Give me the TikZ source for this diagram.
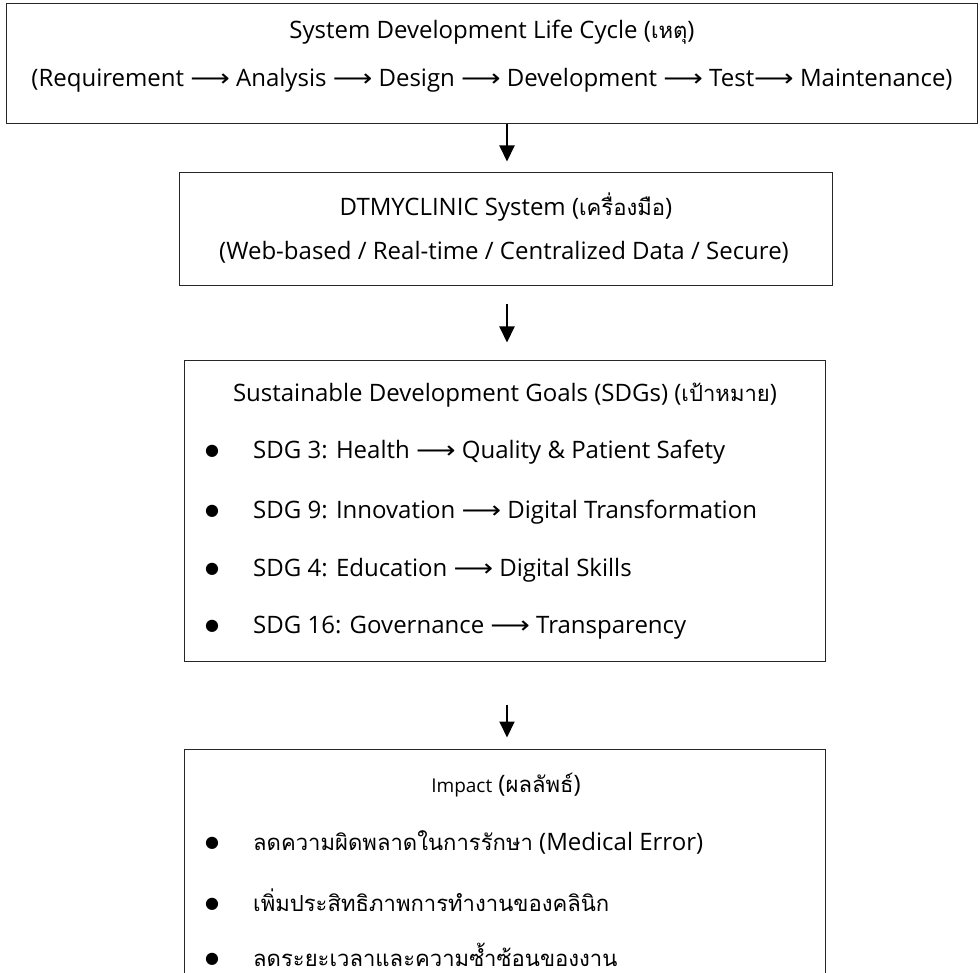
\documentclass[tikz,border=0pt]{standalone}
\usepackage{fontspec}
\usetikzlibrary{arrows.meta}
\setmainfont{Open Sans}
\newfontfamily\thaifont[Script=Thai, Scale=0.92]{Loma}
\newfontfamily\symfont{DejaVu Sans}
\newcommand{\thai}[1]{{\thaifont #1}}
\newcommand{\lto}{{\symfont\scalebox{1.15}[1]{⟶}}}
\newcommand{\bul}{\makebox[48pt][l]{\raisebox{3pt}{\symfont\fontsize{16}{16}\selectfont ●}}}

\begin{document}
\begin{tikzpicture}[x=1pt, y=-1pt]
        \tikzstyle{box}=[draw=black!85, line width=1pt, inner sep=0pt]
        \tikzstyle{every node}=[font=\fontsize{24}{28}\selectfont, inner sep=0pt]
        \tikzstyle{item}=[anchor=west]
        \tikzstyle{arr}=[line width=2pt, -{Triangle[width=15pt, length=16pt]}]
        \useasboundingbox (0,0) rectangle (980,973);
        \clip (0,0) rectangle (980,973);
        % boxes
        \node [box, minimum width=971, minimum height=120] (cause) at (491.5,64) {};
        \node [box, minimum width=653, minimum height=113] (tool) at (505.5,229.5) {};
        \node [box, minimum width=641, minimum height=300] (goal) at (504.5,511) {};
        \node [box, minimum width=641, minimum height=260] (impact) at (504.5,879) {};
        % texts
        \node (causeA) at (492,32) {System Development Life Cycle (\thai{เหตุ})};
        \node (causeB) at (492,80) {(Requirement \lto{} Analysis \lto{} Design \lto{} Development \lto{} Test\lto{} Maintenance)};
        \node (toolA) at (506,207) {DTMYCLINIC System (\thai{เครื่องมือ})};
        \node (toolB) at (504,252) {(Web-based / Real-time / Centralized Data / Secure)};
        \node (goalA) at (505,395) {Sustainable Development Goals (SDGs) (\thai{เป้าหมาย})};
        \node [item] (sdg1) at (205,452) {\bul SDG 3: Health \lto{} Quality \& Patient Safety};
        \node [item] (sdg2) at (205,512) {\bul SDG 9: Innovation \lto{} Digital Transformation};
        \node [item] (sdg3) at (205,570) {\bul SDG 4: Education \lto{} Digital Skills};
        \node [item] (sdg4) at (205,628) {\bul SDG 16: Governance \lto{} Transparency};
        \node (impactA) at (506,785) {{\fontsize{19}{22}\selectfont Impact} (\thai{ผลลัพธ์})};
        \node [item] (imp1) at (205,842) {\bul \thai{ลดความผิดพลาดในการรักษา} (Medical Error)};
        \node [item] (imp2) at (205,900) {\bul \thai{เพิ่มประสิทธิภาพการทำงานของคลินิก}};
        \node [item] (imp3) at (205,955) {\bul \thai{ลดระยะเวลาและความซ้ำซ้อนของงาน}};
        % arrows
        \draw [arr, shorten >=11pt] (cause.south -| 507,0) -- (tool.north -| 507,0);
        \draw [arr, shorten <=18pt, shorten >=18pt] (tool.south -| 507,0) -- (goal.north -| 507,0);
        \draw [arr, shorten <=43pt, shorten >=11pt] (goal.south -| 507,0) -- (impact.north -| 507,0);
    \end{tikzpicture}
\end{document}
